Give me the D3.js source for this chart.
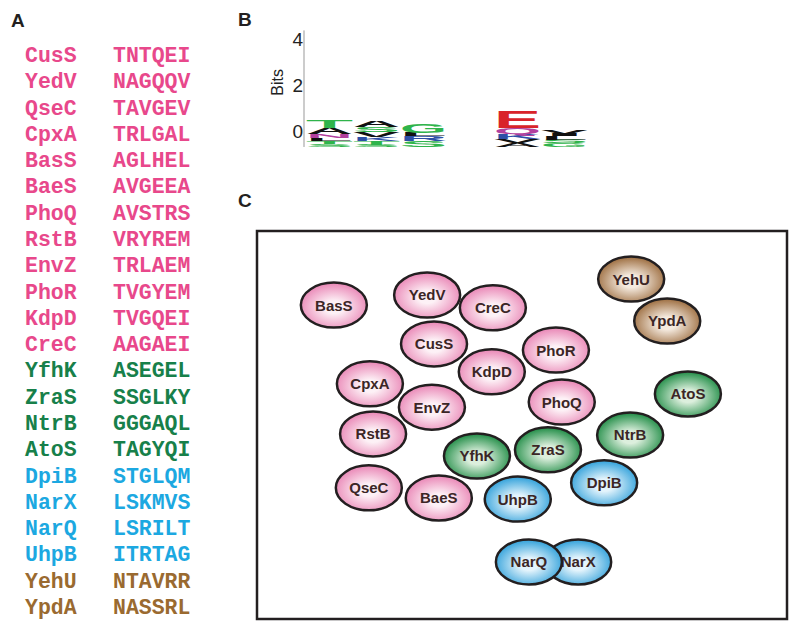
<!DOCTYPE html>
<html><head><meta charset="utf-8">
<script src="https://cdn.jsdelivr.net/npm/d3@7"></script>
<style>body{margin:0;background:#fff}svg{display:block}</style>
</head><body>
<svg id="c" width="800" height="631"></svg>
<script>
// ---------- Panel A data ----------
const kinases = ["CusS","YedV","QseC","CpxA","BasS","BaeS","PhoQ","RstB","EnvZ","PhoR","KdpD","CreC","YfhK","ZraS","NtrB","AtoS","DpiB","NarX","NarQ","UhpB","YehU","YpdA"];
const motifs  = ["TNTQEI","NAGQQV","TAVGEV","TRLGAL","AGLHEL","AVGEEA","AVSTRS","VRYREM","TRLAEM","TVGYEM","TVGQEI","AAGAEI","ASEGEL","SSGLKY","GGGAQL","TAGYQI","STGLQM","LSKMVS","LSRILT","ITRTAG","NTAVRR","NASSRL"];
const groups  = ["pink","pink","pink","pink","pink","pink","pink","pink","pink","pink","pink","pink","green","green","green","green","blue","blue","blue","blue","brown","brown"];
const textColors = {pink:"#e8488b", green:"#17804a", blue:"#1ca8e1", brown:"#9a6a30"};

// ---------- Panel B data (sequence logo, bits; stacks bottom -> top) ----------
const logoTicks = [0, 2, 4];
const logoBase = -0.69;
const logoPositions = [1,2,3,4,5,6];
const logoLetters = [
  [["S",0.13],["T",0.13],["L",0.13],["N",0.17],["A",0.26],["T",0.31]],
  [["S",0.09],["T",0.17],["K",0.17],["V",0.22],["S",0.22],["A",0.26]],
  [["S",0.26],["R",0.2],["L",0.15],["G",0.41]],
  [],
  [["A",0.17],["V",0.19],["K",0.21],["Q",0.26],["E",0.75]],
  [["G",0.17],["S",0.15],["L",0.15],["I",0.1],["V",0.17]]
];
const letterColors = {A:"#111",V:"#111",L:"#111",I:"#111",M:"#111",F:"#111",W:"#111",P:"#111",
  G:"#2fb44b",S:"#2fb44b",T:"#2fb44b",Y:"#2fb44b",C:"#2fb44b",
  K:"#2d4fa6",R:"#2d4fa6",H:"#2d4fa6", D:"#d9232a",E:"#d9232a", N:"#b2409e",Q:"#b2409e"};

// ---------- Panel C data (map coordinates, arbitrary units 0-10) ----------
const nodeNames = ["BasS","YedV","CreC","CusS","KdpD","CpxA","EnvZ","RstB","PhoR","PhoQ","QseC","BaeS","YfhK","ZraS","NtrB","AtoS","UhpB","DpiB","NarX","NarQ","YehU","YpdA"];
const nodeX     = [1.45,3.21,4.45,3.34,4.43,2.13,3.30,2.19,5.64,5.75,2.11,3.43,4.15,5.49,7.04,8.13,4.92,6.55,6.06,5.13,7.06,7.74];
const nodeY     = [1.91,1.65,1.98,2.91,3.63,3.94,4.54,5.23,3.07,4.41,6.62,6.88,5.80,5.64,5.26,4.20,6.91,6.49,8.53,8.53,1.24,2.32];
const nodeGroup = ["pink","pink","pink","pink","pink","pink","pink","pink","pink","pink","pink","pink","green","green","green","green","blue","blue","blue","blue","brown","brown"];
const gradStops = {pink:["#fdf1f6","#e985b5"], green:["#dcefdd","#1f8c45"], blue:["#e4f4fc","#2fa0da"], brown:["#f5ebe0","#9c6c3e"]};

const svg = d3.select("#c");
const ink = "#231f20";

// Panel labels
const labels = [["A",11,27],["B",238,26],["C",238,207]];
svg.selectAll("text.plabel").data(labels).join("text").attr("class","plabel")
  .attr("x",d=>d[1]).attr("y",d=>d[2]).text(d=>d[0])
  .attr("font-family","Liberation Sans, Arial, sans-serif").attr("font-weight","bold")
  .attr("font-size",19).attr("fill",ink);

// ---------- Panel A ----------
const rowY = d3.scaleLinear().domain([0, kinases.length-1]).range([62, 614]);
const gA = svg.append("g").attr("font-family","Courier New, Liberation Mono, monospace")
  .attr("font-weight","bold").attr("font-size",21.5);
gA.selectAll("text.k").data(kinases).join("text").attr("class","k")
  .attr("x",25).attr("y",(d,i)=>rowY(i)).attr("fill",(d,i)=>textColors[groups[i]]).text(d=>d);
gA.selectAll("text.m").data(motifs).join("text").attr("class","m")
  .attr("x",113).attr("y",(d,i)=>rowY(i)).attr("fill",(d,i)=>textColors[groups[i]]).text(d=>d);

// ---------- Panel B ----------
const yB = d3.scaleLinear().domain([0,4]).range([131,38.5]);
const xB = d3.scaleBand().domain(logoPositions).range([306,588]).padding(0);
const gB = svg.append("g");
gB.append("g").attr("transform","translate(303,0)")
  .call(d3.axisLeft(yB).tickValues(logoTicks).tickFormat(d3.format("d")).tickSize(0).tickPadding(0))
  .call(g=>g.select(".domain").remove())
  .call(g=>g.selectAll("text").attr("font-size",19).attr("font-family","Liberation Sans, Arial, sans-serif").attr("fill","#222").attr("dy","0.36em"));
gB.append("line").attr("x1",304).attr("x2",304).attr("y1",yB(4.35)).attr("y2",yB(logoBase))
  .attr("stroke","#999").attr("stroke-width",1);
gB.append("text").attr("transform",`translate(283,${yB(2.1)}) rotate(-90)`).attr("text-anchor","middle")
  .attr("font-family","Liberation Sans, Arial, sans-serif").attr("font-size",16).attr("fill","#222").text("Bits");

const fs = 100, capH = 0.716*fs;
logoLetters.forEach((stack, pi) => {
  let cum = logoBase;
  const x0 = xB(logoPositions[pi]), w = xB.bandwidth();
  stack.forEach(([ch, h]) => {
    const yBottom = yB(cum), yTop = yB(cum + h);
    cum += h;
    const t = gB.append("text").text(ch).attr("font-family","Liberation Sans, Arial, sans-serif")
      .attr("font-weight","bold").attr("font-size",fs).attr("fill",letterColors[ch]);
    const adv = t.node().getComputedTextLength();
    const sx = w / adv, sy = (yBottom - yTop) / capH;
    t.attr("transform",`translate(${x0},${yBottom}) scale(${sx},${sy})`);
  });
});

// ---------- Panel C ----------
const xC = d3.scaleLinear().domain([0,10]).range([257,787]);
const yC = d3.scaleLinear().domain([0,10]).range([231,619]);
const defs = svg.append("defs");
Object.entries(gradStops).forEach(([k,[c0,c1]]) => {
  const g = defs.append("radialGradient").attr("id","g-"+k).attr("cx","50%").attr("cy","55%").attr("r","55%");
  g.append("stop").attr("offset","0%").attr("stop-color",c0);
  g.append("stop").attr("offset","25%").attr("stop-color",c0);
  g.append("stop").attr("offset","100%").attr("stop-color",c1);
});
svg.append("rect").attr("x",xC(0)).attr("y",yC(0)).attr("width",xC(10)-xC(0)).attr("height",yC(10)-yC(0))
  .attr("fill","none").attr("stroke",ink).attr("stroke-width",2.5);
const nodes = nodeNames.map((n,i)=>({name:n,x:nodeX[i],y:nodeY[i],g:nodeGroup[i]}));
const gn = svg.append("g").selectAll("g").data(nodes).join("g")
  .attr("transform",d=>`translate(${xC(d.x)},${yC(d.y)})`);
gn.append("ellipse").attr("rx",33).attr("ry",22.5).attr("fill",d=>`url(#g-${d.g})`)
  .attr("stroke",ink).attr("stroke-width",2.5);
gn.append("text").text(d=>d.name).attr("text-anchor","middle").attr("dy","0.36em")
  .attr("font-family","Liberation Sans, Arial, sans-serif").attr("font-weight","bold")
  .attr("font-size",15).attr("fill","#3b2626");
</script>
</body></html>
